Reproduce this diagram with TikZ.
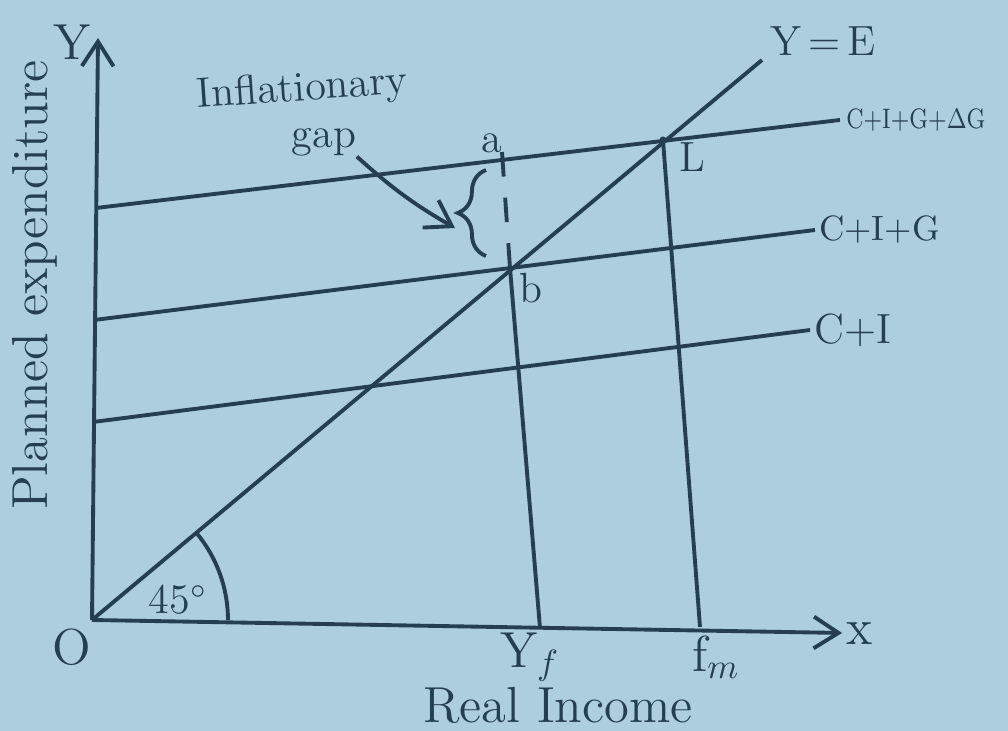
\documentclass[tikz,border=0pt]{standalone}
\usepackage{tikz}
\usetikzlibrary{arrows.meta, positioning, calc, decorations.pathreplacing}
\definecolor{paperblue}{RGB}{172,206,222}
\definecolor{inkblue}{RGB}{38,62,82}

\begin{document}
\begin{tikzpicture}[x=0.01cm, y=-0.01cm,
  ink/.style={draw=inkblue, line width=1.1pt},
  axis/.style={ink, -{Straight Barb[length=7pt, width=9pt]}},
  sched/.style={ink},
  guide/.style={ink},
  gapline/.style={ink, dash pattern=on 7pt off 6pt},
  pointer/.style={ink, -{Straight Barb[length=7pt, width=9pt]}},
  lbl/.style={text=inkblue, font=\normalsize, inner sep=1pt},
  biglbl/.style={text=inkblue, font=\Large, inner sep=1pt}
]
  % Paper
  \fill[paperblue] (0,0) rectangle (1008,731);
  \useasboundingbox (0,0) rectangle (1008,731);

  % Points
  \coordinate (O)    at (92,620);
  \coordinate (ytop) at (98,38);
  \coordinate (xend) at (842,633);
  \coordinate (ye)   at (762,60);
  \coordinate (L)    at (663,140);
  \coordinate (b)    at (510,268);
  \coordinate (a)    at (502,152);
  \coordinate (fm)   at (700,627);
  \coordinate (yf)   at (540,628);

  % Axes
  \draw[axis] (O) -- (ytop);
  \draw[axis] (O) -- (xend);
  \node[biglbl] (ylab) at (72,42) {Y};
  \node[biglbl] (xlab) at (860,634) {x};
  \node[biglbl] (olab) at (72,647) {O};

  % 45 degree line
  \draw[sched] (O) -- (ye);
  \node[lbl, font=\large, anchor=south west] (yelab) at (766,60) {Y$\,=\,$E};
  \draw[ink] ($(O)+(136,0)$) arc[start angle=0, end angle=-40, radius=136];
  \node[lbl, font=\large] (deg) at (178,600) {45$^\circ$};

  % Expenditure schedules
  \coordinate (s3l) at (96,208);  \coordinate (s3r) at (840,120);
  \coordinate (s2l) at (94,320);  \coordinate (s2r) at (815,230);
  \coordinate (s1l) at (93,422);  \coordinate (s1r) at (810,330);
  \draw[sched] (s3l) -- (s3r);
  \draw[sched] (s2l) -- (s2r);
  \draw[sched] (s1l) -- (s1r);
  \node[lbl, font=\footnotesize, xscale=0.8, anchor=west] (cigdg) at ($(s3r)+(3,0)$)
    {C+I+G+$\Delta$G};
  \node[lbl, anchor=west] (cig) at (s2r) {C+I+G};
  \node[lbl, anchor=west, font=\large] (ci) at (s1r) {C+I};

  % Income levels
  \draw[guide] (L) -- (fm);
  \draw[guide] (b) -- (yf);
  \draw[gapline] (a) -- (b);
  \fill[inkblue] (L) circle[radius=3.5];
  \node[lbl, font=\large] (llab) at (692,157) {L};
  \node[lbl, font=\large] (alab) at (492,143) {a};
  \node[lbl, font=\large] (blab) at (531,288) {b};
  \node[biglbl] (yflab) at (530,657) {Y$_f$};
  \node[biglbl] (fmlab) at (716,657) {f$_m$};

  % Inflationary gap
  \draw[ink, decorate, decoration={brace, amplitude=8pt}] (486,256) -- (486,170);
  \node[lbl, font=\large, inner sep=0pt, rotate=4] (infl) at (302,90) {Inflationary};
  \node[lbl, font=\large, inner sep=0pt] (gap) at (324,142) {gap};
  \coordinate (gaptip) at (455,228);
  \draw[pointer] (gap.south east) to[bend right=6] (gaptip);

  % Axis titles
  \node[biglbl] (income) at (558,705) {Real Income};
  \node[biglbl, rotate=90] (spend) at (35,285) {Planned expenditure};
\end{tikzpicture}
\end{document}
